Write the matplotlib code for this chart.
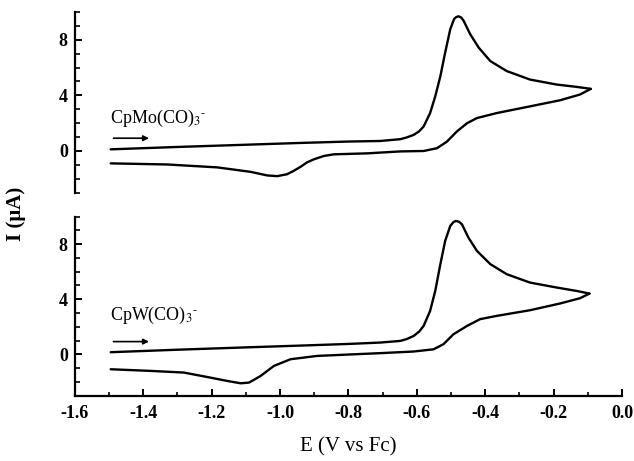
import matplotlib
matplotlib.use("Agg")
import matplotlib.pyplot as plt
from matplotlib.ticker import MultipleLocator

# CpMo(CO)3- : barrido directo (hacia potenciales positivos) y de retorno
mo_fwd_e = [-1.495, -1.30, -1.10, -0.94, -0.80, -0.707, -0.648, -0.63, -0.609, -0.593, -0.58,
            -0.561, -0.546, -0.531, -0.517, -0.502, -0.491, -0.485, -0.478, -0.470, -0.463,
            -0.444, -0.419, -0.385, -0.337, -0.269, -0.191, -0.132, -0.091]
mo_fwd_i = [0.12, 0.29, 0.45, 0.58, 0.68, 0.72, 0.85, 0.97, 1.16, 1.42, 1.76,
            2.73, 3.93, 5.38, 7.08, 8.77, 9.49, 9.63, 9.69, 9.6, 9.37,
            8.41, 7.44, 6.47, 5.75, 5.14, 4.78, 4.61, 4.47]
mo_rev_e = [-0.091, -0.123, -0.181, -0.269, -0.366, -0.424, -0.453, -0.483, -0.512, -0.541,
            -0.58, -0.648, -0.745, -0.843, -0.872, -0.901, -0.921, -0.94, -0.96, -0.979,
            -1.008, -1.037, -1.086, -1.183, -1.329, -1.495]
mo_rev_i = [4.47, 4.06, 3.65, 3.21, 2.73, 2.37, 2.0, 1.40, 0.67, 0.20,
            0.0, -0.03, -0.17, -0.24, -0.36, -0.60, -0.82, -1.14, -1.43, -1.67,
            -1.81, -1.76, -1.50, -1.18, -0.97, -0.89]

# CpW(CO)3-
w_fwd_e = [-1.495, -1.30, -1.10, -0.94, -0.80, -0.707, -0.648, -0.63, -0.609, -0.593, -0.58,
           -0.561, -0.546, -0.531, -0.517, -0.502, -0.492, -0.485, -0.476, -0.468, -0.449,
           -0.424, -0.385, -0.337, -0.269, -0.191, -0.132, -0.095]
w_fwd_i = [0.15, 0.33, 0.5, 0.63, 0.75, 0.85, 0.97, 1.1, 1.33, 1.65, 2.06,
           3.15, 4.6, 6.55, 8.24, 9.33, 9.62, 9.69, 9.62, 9.45, 8.48,
           7.51, 6.55, 5.82, 5.21, 4.85, 4.6, 4.41]
w_rev_e = [-0.095, -0.123, -0.181, -0.269, -0.366, -0.415, -0.453, -0.493, -0.522, -0.551,
           -0.609, -0.707, -0.80, -0.891, -0.93, -0.969, -0.994, -1.018, -1.037, -1.057,
           -1.077, -1.091, -1.115, -1.154, -1.203, -1.281, -1.378, -1.495]
w_rev_i = [4.41, 4.07, 3.69, 3.2, 2.79, 2.55, 2.06, 1.45, 0.73, 0.36,
           0.2, 0.08, -0.02, -0.12, -0.24, -0.36, -0.61, -0.85, -1.21, -1.58,
           -1.87, -2.06, -2.11, -1.94, -1.7, -1.33, -1.21, -1.09]

labels = [r"CpMo(CO)$_3$$^{\text{-}}$", r"CpW(CO)$_3$$^{\text{-}}$"]
label_y = [2.0, 2.5]
arrow_y = [0.92, 0.92]

plt.rcParams["font.family"] = ["Liberation Serif", "DejaVu Serif"]
plt.rcParams["mathtext.fontset"] = "stix"


def main():
    fig = plt.figure(figsize=(6.34, 4.61), dpi=100)
    ax_top = fig.add_axes([0.118, 0.582, 0.863, 0.392])
    ax_bot = fig.add_axes([0.118, 0.142, 0.863, 0.388])

    datos = [(mo_fwd_e, mo_fwd_i, mo_rev_e, mo_rev_i),
             (w_fwd_e, w_fwd_i, w_rev_e, w_rev_i)]

    for k, ax in enumerate([ax_top, ax_bot]):
        fe, fi, re_, ri = datos[k]
        ax.plot(fe, fi, color="black", lw=1.7, solid_joinstyle="round", solid_capstyle="round")
        ax.plot(re_, ri, color="black", lw=1.7, solid_joinstyle="round", solid_capstyle="round")
        ax.annotate("", xy=(-1.375, arrow_y[k]), xytext=(-1.495, arrow_y[k]),
                    arrowprops=dict(arrowstyle="-|>", color="black", lw=1.2,
                                    mutation_scale=8))
        ax.text(-1.497, label_y[k], labels[k], fontsize=13, ha="left", va="baseline")

        ax.set_xlim(-1.6, 0.0)
        ax.set_ylim(-3, 10)
        ax.set_yticks([0, 4, 8])
        ax.yaxis.set_minor_locator(MultipleLocator(1))
        ax.spines["top"].set_visible(False)
        ax.spines["right"].set_visible(False)
        ax.spines["left"].set_linewidth(1.6)
        ax.spines["bottom"].set_linewidth(1.6)
        ax.tick_params(axis="y", which="major", direction="in", length=5, width=1.4,
                       labelsize=13, pad=5)
        ax.tick_params(axis="y", which="minor", direction="in", length=3.5, width=1.2)
        for t in ax.get_yticklabels():
            t.set_fontweight("bold")

    ax_top.spines["bottom"].set_visible(False)
    ax_top.set_xticks([])
    ax_top.tick_params(axis="x", which="both", bottom=False, labelbottom=False)

    ax_bot.set_xticks([-1.6, -1.4, -1.2, -1.0, -0.8, -0.6, -0.4, -0.2, 0.0])
    ax_bot.set_xticklabels(["-1.6", "-1.4", "-1.2", "-1.0", "-0.8", "-0.6", "-0.4", "-0.2", "0.0"])
    ax_bot.xaxis.set_minor_locator(MultipleLocator(0.1))
    ax_bot.tick_params(axis="x", which="major", direction="in", length=5, width=1.4,
                       labelsize=13, pad=7)
    ax_bot.tick_params(axis="x", which="minor", direction="in", length=3, width=1.2)
    for t in ax_bot.get_xticklabels():
        t.set_fontweight("bold")

    ax_bot.set_xlabel("E (V vs Fc)", fontsize=15, labelpad=11)
    fig.text(0.025, 0.535, "I (\u03bcA)", rotation=90, fontsize=15, fontweight="bold",
             ha="center", va="center")

    fig.savefig("out.png", dpi=100)
    plt.close(fig)


if __name__ == "__main__":
    main()
